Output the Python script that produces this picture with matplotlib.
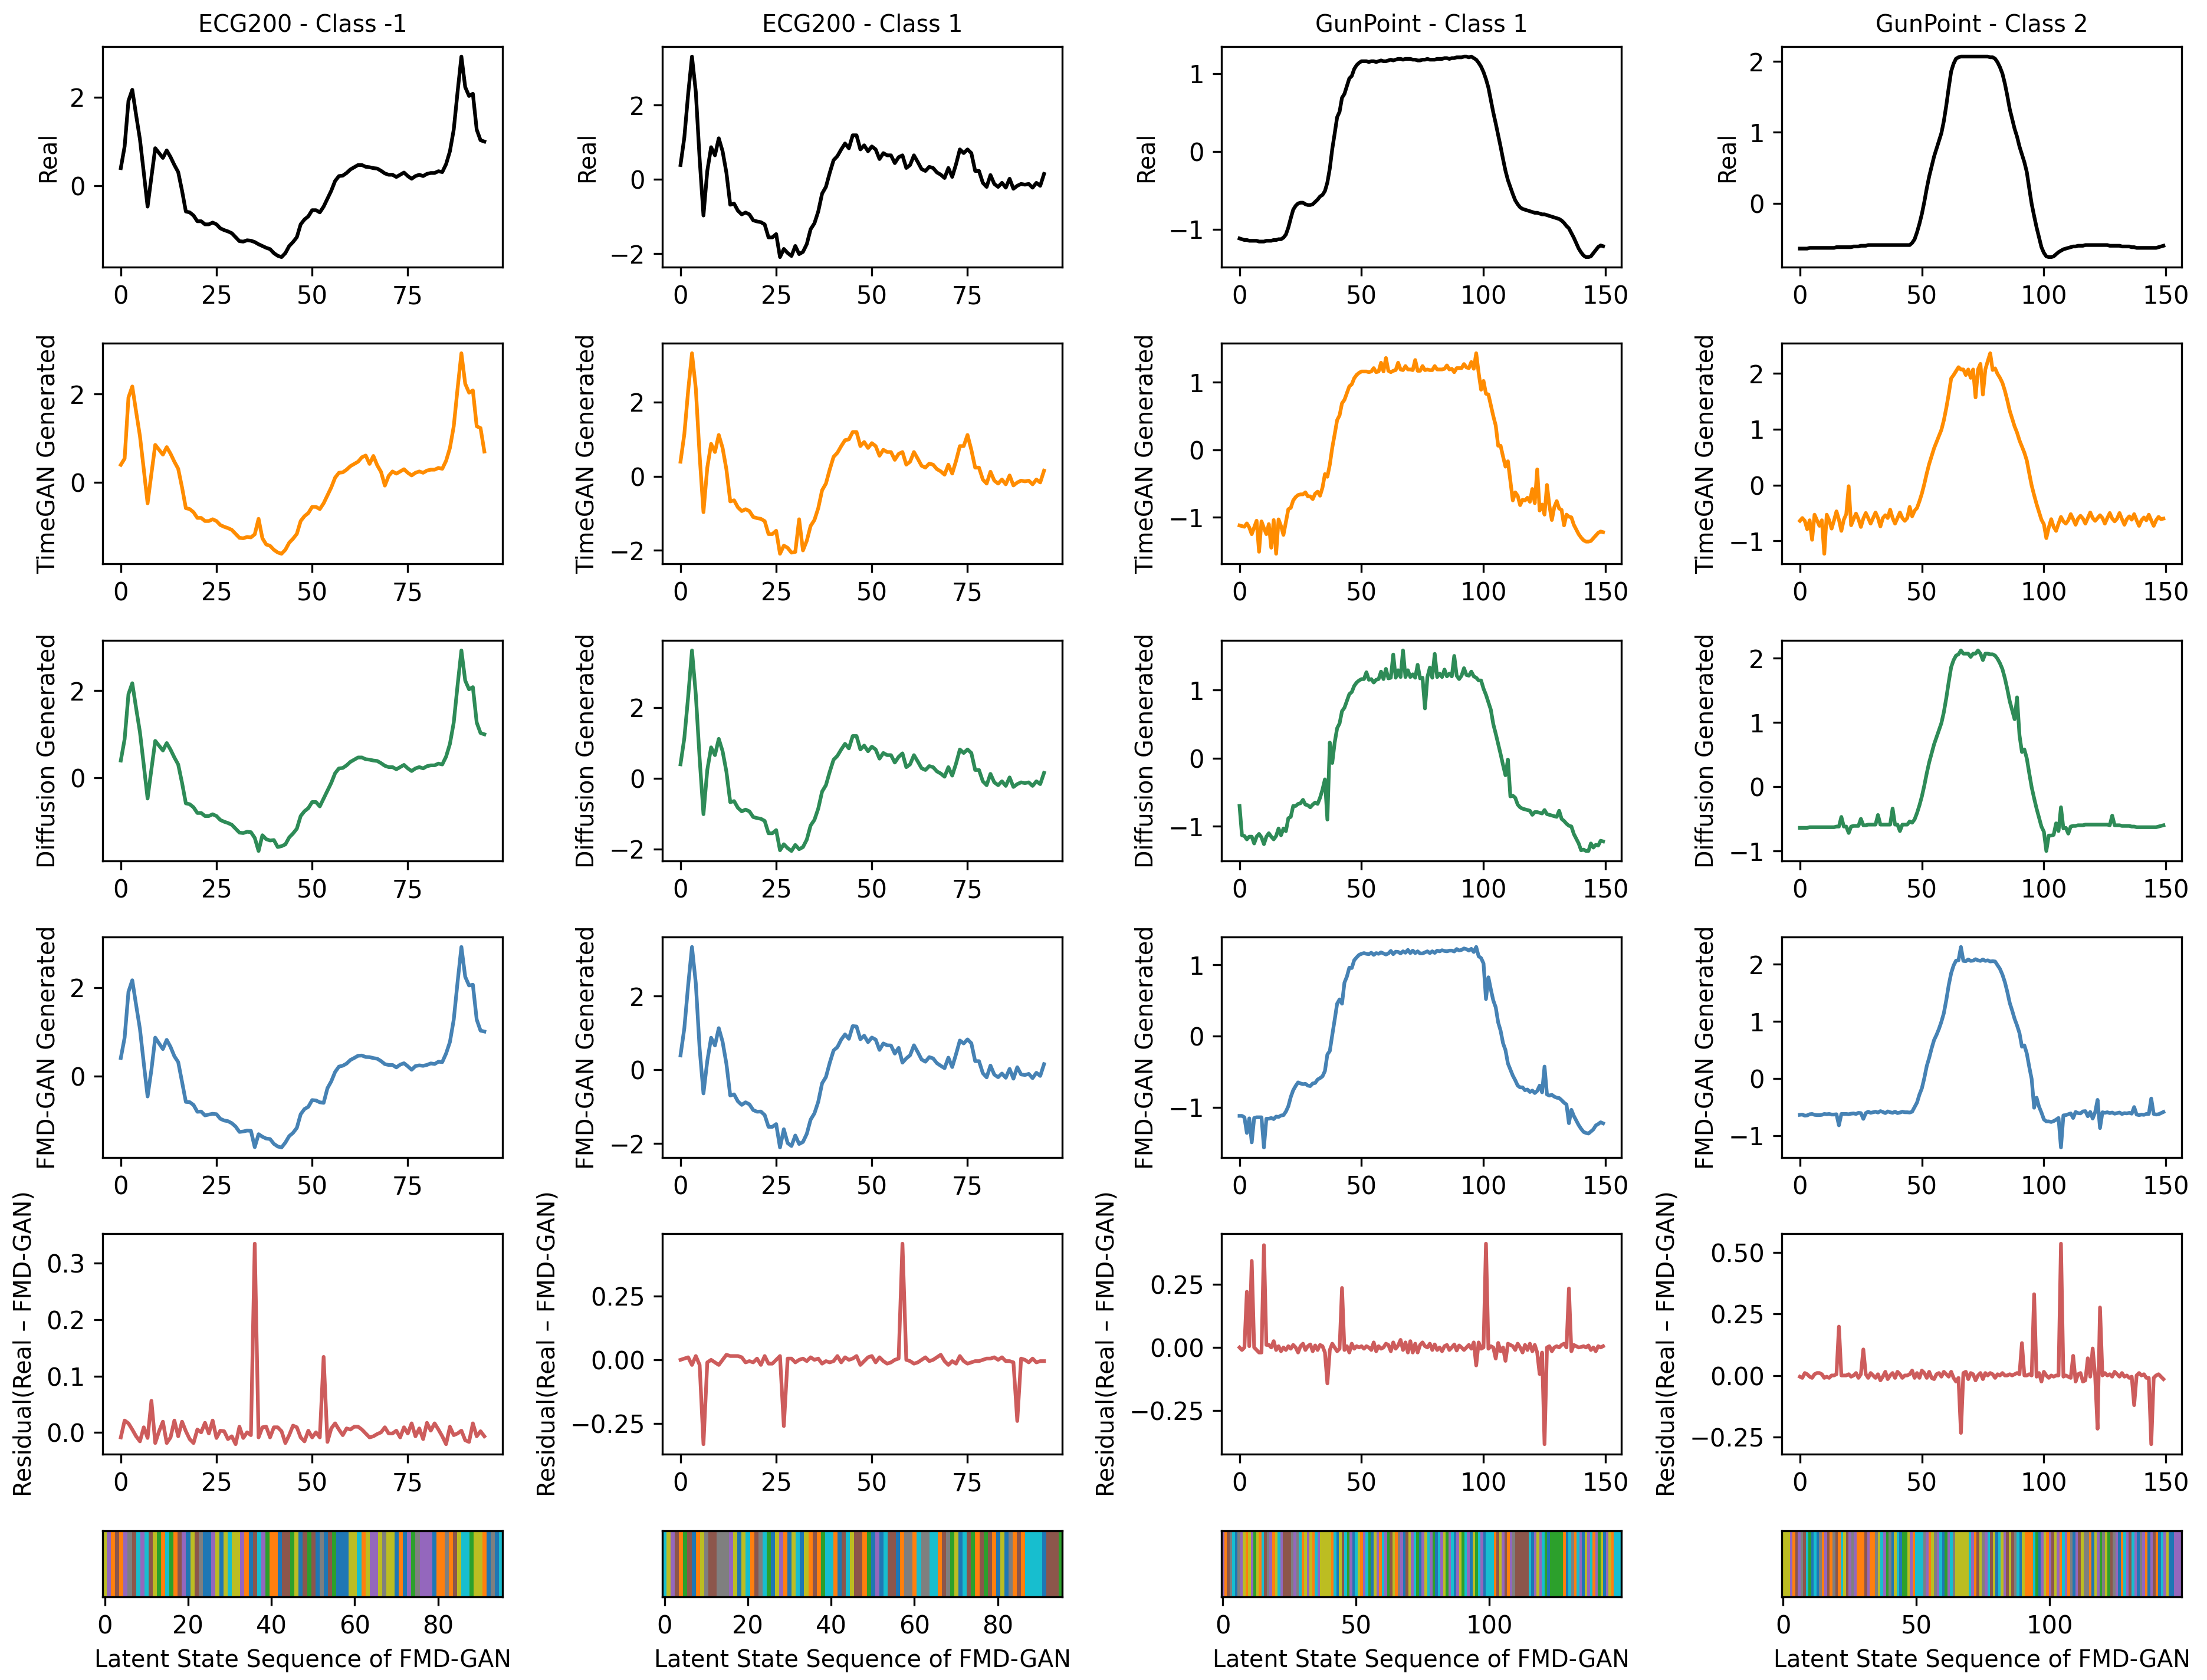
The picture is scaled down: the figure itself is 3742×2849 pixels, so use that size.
import numpy as np
import matplotlib
matplotlib.use("agg")
import matplotlib.pyplot as plt

# ---- data ----
titles = ["ECG200 - Class -1", "ECG200 - Class 1", "GunPoint - Class 1", "GunPoint - Class 2"]
row_labels = ["Real", "TimeGAN Generated", "Diffusion Generated", "FMD-GAN Generated",
              "Residual(Real \u2013 FMD-GAN)"]

ecg_neg_real = [0.40, 0.89, 1.92, 2.17, 1.60, 1.05, 0.30, -0.47, 0.20, 0.85,
                0.74, 0.63, 0.80, 0.65, 0.47, 0.31, -0.11, -0.58, -0.60, -0.67,
                -0.80, -0.80, -0.87, -0.87, -0.83, -0.87, -0.96, -1.00, -1.03, -1.07,
                -1.16, -1.25, -1.26, -1.23, -1.24, -1.27, -1.32, -1.36, -1.40, -1.43,
                -1.52, -1.58, -1.61, -1.52, -1.36, -1.27, -1.16, -0.87, -0.76, -0.69,
                -0.55, -0.55, -0.60, -0.47, -0.29, -0.11, 0.11, 0.22, 0.23, 0.29,
                0.37, 0.42, 0.47, 0.47, 0.43, 0.42, 0.40, 0.39, 0.34, 0.28,
                0.25, 0.25, 0.20, 0.25, 0.30, 0.22, 0.16, 0.22, 0.25, 0.22,
                0.27, 0.29, 0.29, 0.33, 0.31, 0.49, 0.78, 1.27, 2.12, 2.92,
                2.23, 2.03, 2.08, 1.27, 1.03, 1.00]

ecg_pos_real = [0.39, 1.13, 2.30, 3.31, 2.36, 0.55, -0.97, 0.23, 0.87, 0.65,
                1.11, 0.76, 0.18, -0.68, -0.65, -0.84, -0.94, -0.89, -0.94, -1.10,
                -1.13, -1.15, -1.21, -1.56, -1.56, -1.47, -2.09, -1.87, -1.98, -2.06,
                -1.79, -2.01, -1.95, -1.74, -1.34, -1.18, -0.86, -0.38, -0.20, 0.18,
                0.52, 0.63, 0.81, 0.97, 0.84, 1.19, 1.19, 0.81, 0.92, 0.76,
                0.89, 0.81, 0.55, 0.71, 0.65, 0.65, 0.44, 0.60, 0.65, 0.31,
                0.39, 0.65, 0.47, 0.28, 0.23, 0.34, 0.31, 0.19, 0.13, 0.04,
                0.31, 0.07, 0.41, 0.81, 0.71, 0.81, 0.71, 0.23, 0.23, -0.09,
                -0.20, 0.12, -0.12, -0.20, -0.09, -0.22, 0.02, -0.25, -0.17, -0.12,
                -0.14, -0.12, -0.22, -0.09, -0.17, 0.15]

gp1_real = [-1.12, -1.13, -1.14, -1.14, -1.15, -1.15, -1.15, -1.15, -1.16, -1.16,
            -1.16, -1.15, -1.15, -1.15, -1.14, -1.14, -1.13, -1.13, -1.11, -1.07,
            -0.98, -0.86, -0.75, -0.70, -0.67, -0.66, -0.66, -0.68, -0.69, -0.69,
            -0.68, -0.65, -0.62, -0.58, -0.56, -0.51, -0.40, -0.22, 0.03, 0.23,
            0.44, 0.51, 0.69, 0.74, 0.84, 0.94, 0.97, 1.06, 1.11, 1.14,
            1.16, 1.16, 1.16, 1.15, 1.16, 1.16, 1.15, 1.16, 1.17, 1.16,
            1.16, 1.17, 1.18, 1.17, 1.18, 1.19, 1.19, 1.18, 1.19, 1.19,
            1.19, 1.18, 1.18, 1.17, 1.17, 1.18, 1.18, 1.19, 1.18, 1.18,
            1.18, 1.19, 1.19, 1.19, 1.20, 1.20, 1.19, 1.20, 1.20, 1.21,
            1.21, 1.21, 1.22, 1.22, 1.21, 1.22, 1.20, 1.18, 1.14, 1.09,
            1.02, 0.93, 0.82, 0.66, 0.50, 0.36, 0.21, 0.06, -0.10, -0.25,
            -0.37, -0.46, -0.55, -0.63, -0.68, -0.72, -0.74, -0.75, -0.76, -0.77,
            -0.78, -0.79, -0.79, -0.80, -0.81, -0.81, -0.82, -0.83, -0.84, -0.85,
            -0.86, -0.87, -0.89, -0.92, -0.96, -0.99, -1.05, -1.11, -1.18, -1.25,
            -1.30, -1.34, -1.36, -1.36, -1.35, -1.31, -1.27, -1.23, -1.21, -1.22]

gp2_real = [-0.64, -0.64, -0.64, -0.64, -0.63, -0.63, -0.63, -0.63, -0.63, -0.63,
            -0.63, -0.63, -0.63, -0.63, -0.63, -0.62, -0.62, -0.62, -0.62, -0.62,
            -0.62, -0.62, -0.61, -0.61, -0.61, -0.60, -0.60, -0.60, -0.59, -0.59,
            -0.59, -0.59, -0.59, -0.59, -0.59, -0.59, -0.59, -0.59, -0.59, -0.59,
            -0.59, -0.59, -0.59, -0.59, -0.59, -0.59, -0.56, -0.51, -0.41, -0.29,
            -0.15, 0.02, 0.21, 0.38, 0.52, 0.66, 0.77, 0.88, 0.99, 1.16,
            1.38, 1.63, 1.86, 1.97, 2.04, 2.06, 2.07, 2.07, 2.07, 2.07,
            2.07, 2.07, 2.07, 2.07, 2.07, 2.07, 2.07, 2.07, 2.06, 2.06,
            2.04, 1.99, 1.92, 1.83, 1.69, 1.52, 1.33, 1.19, 1.05, 0.94,
            0.80, 0.69, 0.58, 0.44, 0.21, -0.01, -0.18, -0.34, -0.48, -0.62,
            -0.70, -0.75, -0.76, -0.76, -0.75, -0.72, -0.69, -0.67, -0.65, -0.64,
            -0.63, -0.62, -0.61, -0.61, -0.60, -0.60, -0.60, -0.59, -0.59, -0.59,
            -0.59, -0.59, -0.59, -0.59, -0.59, -0.59, -0.59, -0.60, -0.60, -0.60,
            -0.60, -0.60, -0.61, -0.61, -0.61, -0.61, -0.62, -0.62, -0.63, -0.63,
            -0.63, -0.63, -0.63, -0.63, -0.63, -0.63, -0.63, -0.62, -0.61, -0.60]

# residual = Real - FMD-GAN
ecg_neg_resid = [-0.009, 0.021, 0.016, 0.005, -0.007, -0.016, 0.009, -0.010, 0.056, -0.019,
                 0.002, 0.019, -0.019, -0.009, 0.021, -0.007, 0.019, 0.002, -0.012, -0.019,
                 0.005, 0.000, 0.017, -0.002, 0.021, -0.010, 0.003, 0.002, -0.012, -0.007,
                 -0.021, 0.010, -0.010, 0.000, -0.005, 0.335, -0.009, 0.009, 0.010, -0.009,
                 0.009, 0.009, 0.002, -0.019, -0.005, 0.012, 0.009, -0.009, -0.016, 0.003,
                 -0.009, 0.000, -0.009, 0.134, -0.017, 0.007, 0.016, 0.005, -0.005, 0.007,
                 0.005, 0.010, 0.010, 0.005, -0.002, -0.009, -0.007, -0.003, 0.000, 0.009,
                 -0.002, -0.002, 0.003, -0.009, 0.009, -0.002, 0.016, -0.007, 0.007, -0.012,
                 0.017, 0.003, 0.016, 0.005, -0.007, -0.021, 0.010, -0.005, -0.002, 0.003,
                 -0.014, -0.017, 0.016, -0.007, 0.002, -0.007]

ecg_pos_resid = [0.000, 0.005, 0.010, -0.020, 0.015, -0.020, -0.331, -0.010, 0.000, -0.010,
                 -0.020, 0.000, 0.020, 0.015, 0.015, 0.015, 0.010, -0.010, -0.005, -0.010,
                 0.005, -0.020, 0.015, -0.015, -0.015, 0.000, 0.015, -0.260, 0.005, 0.005,
                 -0.010, 0.000, 0.005, -0.005, 0.010, 0.000, 0.005, -0.015, -0.005, -0.010,
                 -0.005, 0.015, -0.010, 0.010, 0.000, 0.005, 0.015, -0.020, -0.005, 0.010,
                 0.015, -0.010, 0.010, -0.005, -0.015, -0.010, 0.000, 0.005, 0.456, 0.000,
                 -0.005, -0.015, -0.010, 0.000, 0.010, -0.005, 0.000, 0.010, 0.020, -0.005,
                 -0.020, -0.005, -0.015, 0.015, -0.005, -0.015, -0.010, -0.005, -0.005, 0.000,
                 0.005, 0.005, 0.010, 0.000, 0.010, -0.005, -0.005, -0.010, -0.240, 0.005,
                 0.000, -0.010, 0.005, -0.010, -0.005, -0.005]

gp1_resid = [0.000, -0.010, 0.000, 0.220, 0.005, 0.342, 0.000, -0.010, -0.020, -0.020,
             0.404, 0.010, 0.010, 0.000, 0.025, -0.010, 0.005, -0.015, 0.000, -0.010,
             0.005, -0.005, 0.010, 0.000, -0.020, 0.005, 0.015, -0.010, 0.005, 0.012,
             -0.015, 0.008, -0.010, 0.010, 0.005, -0.020, -0.142, -0.010, 0.015, 0.000,
             -0.015, -0.005, 0.235, -0.010, 0.005, -0.020, 0.015, -0.005, 0.005, 0.000,
             0.005, -0.005, 0.005, 0.000, -0.010, 0.020, -0.015, 0.005, -0.005, 0.000,
             0.015, 0.010, -0.015, 0.020, -0.005, 0.008, 0.030, -0.010, 0.020, -0.020,
             0.025, -0.020, 0.015, -0.020, 0.010, 0.020, 0.005, 0.000, 0.015, -0.010,
             0.012, -0.010, 0.000, -0.015, 0.005, 0.010, -0.010, 0.000, 0.012, -0.012,
             0.008, 0.000, -0.010, 0.000, 0.010, -0.005, 0.020, -0.071, 0.020, -0.005,
             0.000, 0.410, -0.005, 0.005, 0.000, -0.044, 0.018, -0.015, 0.000, -0.053,
             0.015, 0.010, 0.005, -0.010, 0.015, 0.000, -0.020, 0.010, -0.010, 0.015,
             -0.015, 0.010, -0.020, -0.105, -0.020, -0.382, 0.000, 0.005, -0.015, 0.000,
             0.005, 0.000, 0.010, 0.015, 0.000, 0.233, -0.015, 0.010, 0.005, 0.000,
             0.002, 0.005, 0.000, 0.008, -0.010, 0.000, -0.015, 0.005, 0.000, 0.005]

gp2_resid = [-0.005, -0.010, 0.010, 0.005, -0.005, -0.010, 0.005, 0.010, 0.010, 0.005,
             -0.010, -0.005, -0.010, 0.000, 0.000, 0.005, 0.199, 0.000, 0.000, 0.000,
             0.005, -0.005, 0.000, 0.010, -0.010, 0.005, 0.106, 0.005, -0.010, 0.010,
             0.000, -0.010, 0.005, -0.020, -0.005, 0.015, -0.015, 0.000, 0.010, -0.010,
             0.015, 0.005, -0.010, 0.000, 0.000, 0.005, 0.020, -0.010, 0.010, -0.010,
             0.020, 0.010, -0.010, 0.015, -0.010, -0.015, 0.005, 0.010, -0.005, 0.015,
             0.005, -0.005, 0.015, -0.010, -0.025, -0.010, -0.234, 0.010, 0.015, -0.015,
             0.010, 0.005, -0.020, 0.000, 0.010, -0.015, 0.010, 0.000, 0.010, 0.005,
             -0.010, 0.005, 0.000, 0.010, 0.000, 0.000, 0.005, 0.000, 0.005, 0.010,
             0.005, 0.132, 0.000, 0.000, 0.005, 0.000, 0.331, -0.005, 0.010, -0.025,
             0.015, 0.000, -0.010, 0.000, -0.005, 0.000, 0.000, 0.537, -0.005, 0.000,
             -0.005, -0.010, 0.080, -0.025, 0.005, 0.010, -0.025, -0.020, 0.070, -0.005,
             0.110, 0.000, -0.217, 0.277, 0.000, 0.010, 0.000, 0.005, -0.005, 0.015,
             0.005, -0.005, 0.010, -0.005, 0.000, -0.010, -0.005, -0.121, 0.000, 0.010,
             0.000, 0.005, -0.010, -0.010, -0.280, -0.010, 0.000, 0.005, -0.005, -0.015]

# deviations of the generated curves from the real curve (index: offset)
tg_dev_ecg_neg = {1: -0.35, 35: 0.1, 36: 0.5, 37: 0.1, 63: 0.1, 64: 0.18, 66: 0.2,
                  68: -0.1, 69: -0.35, 70: -0.1, 94: 0.2, 95: -0.3}
tg_dev_ecg_pos = {28: 0.05, 30: -0.25, 31: 0.85, 32: -0.05, 44: 0.15, 74: 0.1, 75: 0.3}
tg_dev_gp1 = {3: 0.05, 5: -0.1, 7: 0.1, 8: -0.35, 9: 0.1, 11: -0.1, 12: 0.05, 13: -0.3,
              14: 0.1, 15: -0.4, 16: 0.1, 18: -0.15, 20: 0.1, 27: 0.05, 30: -0.05, 33: -0.1,
              35: 0.15, 55: 0.05, 58: 0.12, 60: 0.2, 62: -0.03, 65: 0.1, 68: 0.05, 72: 0.15,
              75: 0.06, 80: 0.06, 85: 0.05, 88: -0.05, 92: 0.05, 95: 0.08, 97: 0.25, 99: -0.2,
              101: -0.1, 106: -0.15, 110: 0.2, 112: -0.2, 115: -0.1, 118: 0.05, 120: 0.2,
              122: 0.5, 123: -0.1, 125: -0.15, 126: 0.3, 128: -0.2, 130: 0.1, 133: -0.2, 136: 0.05}
tg_dev_gp2 = {1: 0.05, 3: -0.15, 5: -0.35, 6: 0.1, 8: -0.1, 10: -0.6, 11: 0.1, 13: -0.15,
              15: 0.15, 17: -0.2, 19: 0.1, 20: 0.6, 21: -0.1, 23: 0.1, 25: -0.15, 27: 0.1,
              29: -0.1, 31: 0.1, 33: -0.15, 35: 0.05, 37: 0.15, 39: -0.1, 41: 0.1, 43: -0.05,
              45: 0.2, 47: 0.05, 62: 0.05, 65: 0.05, 68: -0.1, 70: -0.15, 72: -0.5, 74: 0.1,
              75: -0.45, 77: 0.15, 78: 0.3, 80: 0.05, 101: -0.2, 103: 0.15, 105: -0.1, 107: 0.1,
              109: -0.05, 111: 0.1, 113: -0.1, 115: 0.05, 117: -0.1, 119: 0.1, 121: -0.05,
              123: 0.05, 125: -0.1, 127: 0.1, 129: -0.05, 131: 0.1, 133: -0.1, 135: 0.05,
              137: 0.1, 139: -0.1, 141: 0.05, 143: 0.1, 145: -0.1, 147: 0.05}

dif_dev_ecg_neg = {35: -0.1, 36: -0.35, 37: 0.05, 40: 0.1, 42: 0.05, 52: -0.05}
dif_dev_ecg_pos = {3: 0.3, 6: -0.05, 26: 0.05, 30: -0.1, 58: 0.05}
dif_dev_gp1 = {0: 0.42, 3: -0.05, 6: -0.1, 8: 0.05, 10: -0.1, 12: 0.05, 14: -0.05, 16: 0.1,
               18: 0.08, 20: 0.1, 22: 0.05, 26: 0.05, 29: -0.03, 32: -0.05, 34: 0.1, 35: 0.2,
               36: -0.5, 37: 0.45, 38: -0.1, 52: 0.1, 55: -0.05, 58: 0.1, 60: 0.15, 63: 0.35,
               65: 0.1, 67: 0.4, 69: 0.1, 71: 0.05, 73: 0.2, 76: -0.45, 78: 0.15, 80: 0.35,
               82: 0.05, 84: 0.1, 86: 0.05, 88: 0.3, 90: -0.05, 92: 0.1, 95: 0.05, 99: 0.05,
               103: 0.05, 110: 0.35, 111: -0.1, 113: 0.05, 120: -0.05, 125: 0.05, 131: 0.1,
               136: 0.05, 140: -0.05, 144: 0.1, 147: -0.05}
dif_dev_gp2 = {17: 0.15, 20: -0.1, 25: 0.1, 32: 0.15, 38: 0.25, 41: -0.1, 45: 0.05, 66: 0.05,
               70: -0.05, 73: 0.05, 75: -0.1, 89: 0.45, 91: -0.15, 101: -0.25, 105: 0.15,
               107: 0.35, 110: -0.1, 128: 0.15}

# latent state per time step (tab10 colour index)
ecg_neg_states = [8, 4, 1, 5, 1, 4, 7, 5, 9, 4, 9, 5, 8, 2, 1, 9, 2, 1, 5, 4,
                  0, 8, 5, 7, 0, 0, 4, 8, 0, 8, 9, 8, 8, 4, 1, 0, 5, 9, 4, 2,
                  1, 1, 0, 5, 5, 2, 8, 0, 5, 2, 5, 0, 7, 0, 5, 2, 0, 0, 0, 8,
                  8, 9, 1, 8, 4, 4, 8, 7, 8, 8, 0, 1, 0, 4, 2, 7, 4, 4, 4, 0,
                  1, 1, 7, 1, 5, 8, 9, 9, 2, 8, 8, 1, 0, 7, 0, 9]
ecg_pos_states = [9, 8, 4, 5, 1, 2, 5, 0, 1, 8, 7, 5, 5, 7, 7, 7, 4, 8, 0, 8,
                  9, 1, 5, 7, 9, 2, 0, 8, 4, 1, 0, 8, 9, 0, 8, 1, 5, 1, 2, 9,
                  9, 1, 0, 5, 9, 8, 5, 5, 1, 2, 0, 4, 0, 9, 5, 5, 0, 1, 7, 7,
                  1, 9, 7, 7, 9, 9, 1, 5, 7, 2, 8, 0, 9, 5, 2, 1, 5, 2, 5, 1,
                  0, 8, 0, 7, 1, 5, 1, 9, 9, 9, 9, 0, 5, 5, 5, 2]
gp1_states = [4, 1, 5, 7, 9, 0, 7, 4, 8, 1, 8, 4, 2, 8, 1, 9, 5, 7, 4, 1,
              8, 9, 4, 5, 5, 5, 7, 4, 7, 9, 1, 8, 4, 8, 1, 9, 4, 8, 8, 8,
              8, 1, 9, 0, 8, 5, 9, 2, 4, 0, 9, 8, 1, 4, 9, 2, 0, 8, 4, 1,
              9, 4, 2, 5, 8, 1, 7, 4, 0, 5, 8, 4, 9, 2, 0, 4, 8, 9, 4, 2,
              0, 9, 4, 8, 2, 4, 9, 0, 4, 8, 2, 9, 4, 0, 8, 2, 9, 4, 0, 9,
              9, 9, 1, 5, 8, 4, 5, 1, 4, 7, 5, 5, 5, 5, 5, 9, 0, 4, 8, 4,
              9, 2, 0, 2, 2, 2, 2, 2, 1, 0, 9, 7, 1, 9, 4, 0, 8, 4, 9, 1,
              4, 2, 8, 0, 4, 8, 1, 9, 9, 9]
gp2_states = [8, 8, 8, 4, 1, 5, 4, 7, 5, 9, 2, 0, 9, 0, 7, 1, 4, 5, 1, 7,
              5, 1, 9, 8, 5, 4, 7, 4, 1, 1, 1, 5, 4, 1, 1, 7, 8, 9, 4, 2,
              7, 0, 8, 9, 0, 2, 2, 8, 4, 1, 9, 9, 9, 7, 4, 1, 8, 7, 4, 9,
              0, 2, 4, 9, 7, 8, 8, 8, 8, 8, 9, 4, 1, 5, 8, 7, 4, 9, 5, 8,
              0, 9, 8, 4, 5, 8, 5, 7, 9, 0, 8, 1, 1, 1, 9, 2, 0, 4, 8, 1,
              4, 5, 8, 4, 1, 9, 4, 1, 7, 0, 4, 5, 8, 7, 7, 1, 0, 8, 4, 2,
              7, 8, 2, 5, 7, 4, 0, 1, 9, 4, 5, 9, 4, 0, 7, 4, 1, 0, 4, 5,
              1, 0, 9, 4, 8, 0, 0, 4, 4, 4]

reals = [ecg_neg_real, ecg_pos_real, gp1_real, gp2_real]
resids = [ecg_neg_resid, ecg_pos_resid, gp1_resid, gp2_resid]
tg_devs = [tg_dev_ecg_neg, tg_dev_ecg_pos, tg_dev_gp1, tg_dev_gp2]
dif_devs = [dif_dev_ecg_neg, dif_dev_ecg_pos, dif_dev_gp1, dif_dev_gp2]
states = [ecg_neg_states, ecg_pos_states, gp1_states, gp2_states]

colors = ["black", "darkorange", "seagreen", "steelblue", "indianred"]


def with_dev(base, dev):
    out = np.array(base, dtype=float)
    for k, v in dev.items():
        out[k] += v
    return out


fig = plt.figure(figsize=(3742 / 300, 2849 / 300), dpi=300)

lefts = [0.0465, 0.3001, 0.5534, 0.8073]
width = 0.1812
bottoms = [0.8410, 0.6644, 0.4875, 0.3110, 0.1344]
height = 0.1313
label_size = 9.5

for c in range(4):
    real = np.array(reals[c])
    resid = np.array(resids[c])
    series = [real,
              with_dev(real, tg_devs[c]),
              with_dev(real, dif_devs[c]),
              real - resid,
              resid]
    x = np.arange(len(real))
    for r in range(5):
        ax = fig.add_axes([lefts[c], bottoms[r], width, height])
        ax.plot(x, series[r], color=colors[r], lw=1.5)
        ax.set_ylabel(row_labels[r], fontsize=label_size)
        if r == 0:
            ax.set_title(titles[c], fontsize=label_size)

    ax = fig.add_axes([lefts[c], 0.0495, width, 0.0393])
    ax.imshow(np.array(states[c])[np.newaxis, :], aspect="auto", cmap="tab10",
              vmin=-0.5, vmax=9.5, interpolation="nearest")
    ax.set_yticks([])
    ax.set_xlabel("Latent State Sequence of FMD-GAN", fontsize=label_size)

fig.savefig("out.png", dpi=300)
